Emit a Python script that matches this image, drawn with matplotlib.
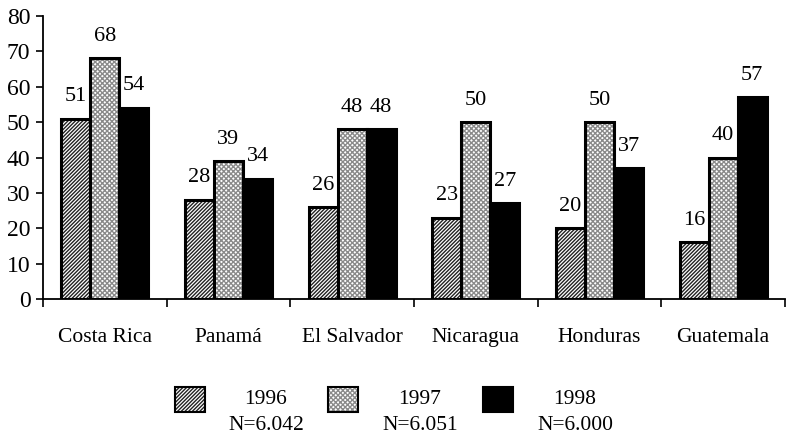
import matplotlib
matplotlib.use("Agg")
import matplotlib.pyplot as plt
import numpy as np
from matplotlib.patches import Rectangle

plt.rcParams['font.family'] = ['Liberation Serif', 'DejaVu Serif']
plt.rcParams['hatch.linewidth'] = 1.0

categories = ["Costa Rica", "Panamá", "El Salvador", "Nicaragua", "Honduras", "Guatemala"]
years = ["1996", "1997", "1998"]
ns = ["N=6.042", "N=6.051", "N=6.000"]
v1996 = [51, 28, 26, 23, 20, 16]
v1997 = [68, 39, 48, 50, 50, 40]
v1998 = [54, 34, 48, 27, 37, 57]
yticks = [0, 10, 20, 30, 40, 50, 60, 70, 80]

series = [v1996, v1997, v1998]
fills = [dict(facecolor='white', hatch='/////////', edgecolor='#222222'),
         dict(facecolor='white', hatch='xxxxxxx', edgecolor='#8a8a8a'),
         dict(facecolor='black', hatch=None, edgecolor='black')]

W, H = 806, 434
fig = plt.figure(figsize=(W / 100, H / 100), dpi=100)
ax = fig.add_axes([43 / W, 1 - 299 / H, (785 - 43) / W, 283 / H])

x = np.arange(len(categories))
w = 0.235
for i, (vals, st) in enumerate(zip(series, fills)):
    pos = x + (i - 1) * w
    ax.bar(pos, vals, w, linewidth=0, **st)
    ax.bar(pos, vals, w, facecolor='none', edgecolor='black', linewidth=2.2)
    for p, v in zip(pos, vals):
        ax.annotate(str(v), (p, v), xytext=(0, 9), textcoords='offset points',
                    ha='center', va='bottom', fontsize=16)

ax.set_xlim(-0.5, len(categories) - 0.5)
ax.set_ylim(0, 80)
ax.set_yticks(yticks)
ax.set_yticklabels([str(t) for t in yticks], fontsize=17)
ax.set_xticks(x)
ax.set_xticklabels(categories, fontsize=15.5)
ax.tick_params(axis='x', length=0, pad=21)
ax.set_xticks(np.arange(len(categories) + 1) - 0.5, minor=True)
ax.tick_params(axis='x', which='minor', length=6, direction='out', width=1.2)
ax.tick_params(axis='y', length=5, direction='out', width=1.2, pad=4)
for s in ['top', 'right']:
    ax.spines[s].set_visible(False)
for s in ['left', 'bottom']:
    ax.spines[s].set_linewidth(1.3)

# legend drawn in figure pixel coordinates
sq_x = [175, 328, 483]
txt_x = [266, 420, 575]
for i in range(3):
    st = fills[i]
    r1 = Rectangle((sq_x[i] / W, 1 - 412 / H), 30 / W, 25 / H, transform=fig.transFigure,
                   linewidth=0, **st)
    r2 = Rectangle((sq_x[i] / W, 1 - 412 / H), 30 / W, 25 / H, transform=fig.transFigure,
                   facecolor='none', edgecolor='black', linewidth=1.5)
    fig.add_artist(r1)
    fig.add_artist(r2)
    fig.text(txt_x[i] / W, 1 - 400 / H, years[i], ha='center', va='center', fontsize=15.5)
    fig.text(txt_x[i] / W, 1 - 425 / H, ns[i], ha='center', va='center', fontsize=15.5)

fig.savefig("out.png", dpi=100)
